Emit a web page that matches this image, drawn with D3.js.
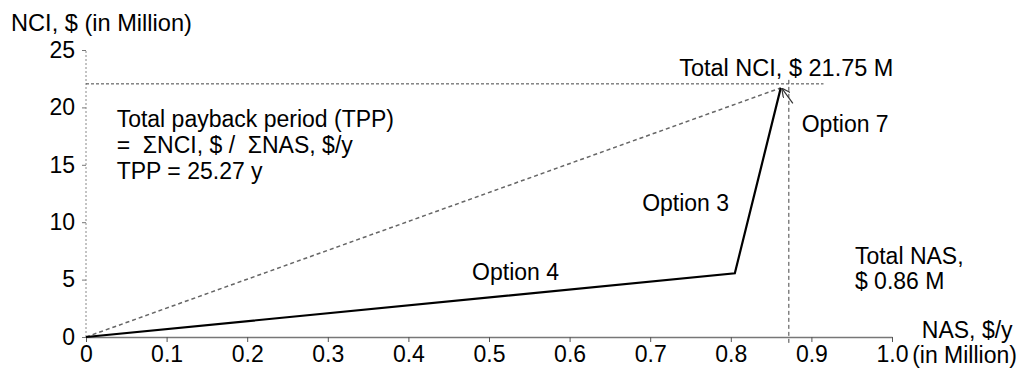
<!DOCTYPE html>
<html>
<head>
<meta charset="utf-8">
<script src="https://cdn.jsdelivr.net/npm/d3@7"></script>
<style>
    body { margin: 0; background: #fff; }
    text { font-family: "Liberation Sans", Arial, sans-serif; fill: #000; white-space: pre; }
</style>
</head>
<body>
<svg id="drawing_region"></svg>
<script>
// cumulative NAS ($/y, million) and NCI ($, million) after each option
const nas = [0, 0.805, 0.862];
const nci = [0, 5.55, 21.7];
const optionNames = ['Option 4', 'Option 3', 'Option 7'];

// reference (total) lines
const totalNAS = 0.872;
const totalNCI = 22.05;

const xTicks = [0, 0.1, 0.2, 0.3, 0.4, 0.5, 0.6, 0.7, 0.8, 0.9, 1.0];
const xTickLabels = ['0', '0.1', '0.2', '0.3', '0.4', '0.5', '0.6', '0.7', '0.8', '0.9', '1.0'];
const yTicks = [0, 5, 10, 15, 20, 25];

const yTitle = 'NCI, $ (in Million)';
const xTitle = 'NAS, $/y';
const xUnit = '(in Million)';
const tppLines = ['Total payback period (TPP)', '=  \u03A3NCI, $ /  \u03A3NAS, $/y', 'TPP = 25.27 y'];
const totalNciLabel = 'Total NCI, $ 21.75 M';
const totalNasLines = ['Total NAS,', '$ 0.86 M'];

class PaybackChart {

    constructor(config) {
        this.config = {
            parent: config.parent,
            width: config.width || 1032,
            height: config.height || 369,
            margin: config.margin || {top:50, right:140, bottom:32, left:86}
        }
        this.init();
    }

    init() {
        let self = this;

        self.svg = d3.select(self.config.parent)
            .attr('width', self.config.width)
            .attr('height', self.config.height);

        self.chart = self.svg.append('g')
            .attr('transform', `translate(${self.config.margin.left}, ${self.config.margin.top})`);

        self.inner_width = self.config.width - self.config.margin.left - self.config.margin.right;
        self.inner_height = self.config.height - self.config.margin.top - self.config.margin.bottom;

        self.xscale = d3.scaleLinear()
            .domain([0, 1])
            .range([0, self.inner_width]);

        self.yscale = d3.scaleLinear()
            .domain([0, 25])
            .range([self.inner_height, 0]);

        self.svg.append('defs').append('marker')
            .attr('id', 'openarrow')
            .attr('viewBox', '0 0 10 10')
            .attr('refX', 9).attr('refY', 5)
            .attr('markerWidth', 9).attr('markerHeight', 9)
            .attr('markerUnits', 'userSpaceOnUse')
            .attr('orient', 'auto')
            .append('path')
            .attr('d', 'M0,0 L10,5 L0,10')
            .attr('fill', 'none')
            .attr('stroke', '#333')
            .attr('stroke-width', 1.3);
    }

    render() {
        let self = this;
        const x = self.xscale, y = self.yscale;
        const fs = '23px';

        // y axis: dashed line + short ticks
        const yaxis = d3.axisLeft(y).tickValues(yTicks).tickSize(4).tickPadding(7);
        const yg = self.chart.append('g').call(yaxis);
        yg.select('.domain').remove();
        yg.selectAll('.tick line').attr('stroke', '#777');
        yg.selectAll('.tick text').style('font-size', fs).attr('fill', '#000');
        self.chart.append('line')
            .attr('x1', 0).attr('x2', 0)
            .attr('y1', y(0)).attr('y2', y(25))
            .attr('stroke', '#888').attr('stroke-width', 1)
            .attr('stroke-dasharray', '2,2');

        // x axis
        const xaxis = d3.axisBottom(x).tickValues(xTicks)
            .tickFormat((d, i) => xTickLabels[i])
            .tickSize(5).tickPadding(4).tickSizeOuter(0);
        const xg = self.chart.append('g')
            .attr('transform', `translate(0, ${self.inner_height})`)
            .call(xaxis);
        xg.select('.domain').attr('stroke', '#777').attr('stroke-width', 1.5);
        xg.selectAll('.tick line').attr('stroke', '#555');
        xg.selectAll('.tick text').style('font-size', fs).attr('fill', '#000');

        // total reference lines
        self.chart.append('line')
            .attr('x1', x(0)).attr('x2', x(0.915))
            .attr('y1', y(totalNCI)).attr('y2', y(totalNCI))
            .attr('stroke', '#444').attr('stroke-width', 1)
            .attr('stroke-dasharray', '3,2');
        self.chart.append('line')
            .attr('x1', x(totalNAS)).attr('x2', x(totalNAS))
            .attr('y1', y(totalNCI) - 4).attr('y2', y(-0.7))
            .attr('stroke', '#444').attr('stroke-width', 1)
            .attr('stroke-dasharray', '4,3');

        // dashed diagonal from origin to end point
        const last = nas.length - 1;
        self.chart.append('line')
            .attr('x1', x(0)).attr('y1', y(0))
            .attr('x2', x(nas[last])).attr('y2', y(nci[last]))
            .attr('stroke', '#666').attr('stroke-width', 1.5)
            .attr('stroke-dasharray', '4,3');

        // cumulative curve
        const line = d3.line()
            .x((d, i) => x(nas[i]))
            .y((d, i) => y(nci[i]));
        self.chart.append('path')
            .datum(nas)
            .attr('d', line)
            .attr('fill', 'none')
            .attr('stroke', '#000')
            .attr('stroke-width', 2.2)
            .attr('stroke-linejoin', 'miter');

        // arrow to Option 7
        self.chart.append('line')
            .attr('x1', x(0.877)).attr('y1', y(20.35))
            .attr('x2', x(nas[last]) + 1.5).attr('y2', y(nci[last]) + 1)
            .attr('stroke', '#333').attr('stroke-width', 1.2)
            .attr('marker-end', 'url(#openarrow)');

        // labels
        const label = (txt, px, py, anchor) => self.chart.append('text')
            .attr('x', px).attr('y', py)
            .attr('text-anchor', anchor || 'start')
            .style('font-size', fs)
            .text(txt);

        label(optionNames[0], x(0.479), y(5.0));
        label(optionNames[1], x(0.69), y(11.0));
        label(optionNames[2], x(0.888), y(17.85));
        label(totalNciLabel, x(0.736), y(22.7)).style('font-size', '23.5px');
        tppLines.forEach((t, i) => label(t, x(0.038), y(18.3) + i * 26));
        totalNasLines.forEach((t, i) => label(t, x(0.954), y(6.4) + i * 25));
        label(xTitle, x(1.037), y(-0.1));
        label(xUnit, x(1.025), self.inner_height + 26);

        // y title
        self.svg.append('text')
            .attr('x', 11).attr('y', 31)
            .style('font-size', '23.6px')
            .text(yTitle);
    }
}

const chart = new PaybackChart({ parent: '#drawing_region' });
chart.render();
</script>
</body>
</html>
